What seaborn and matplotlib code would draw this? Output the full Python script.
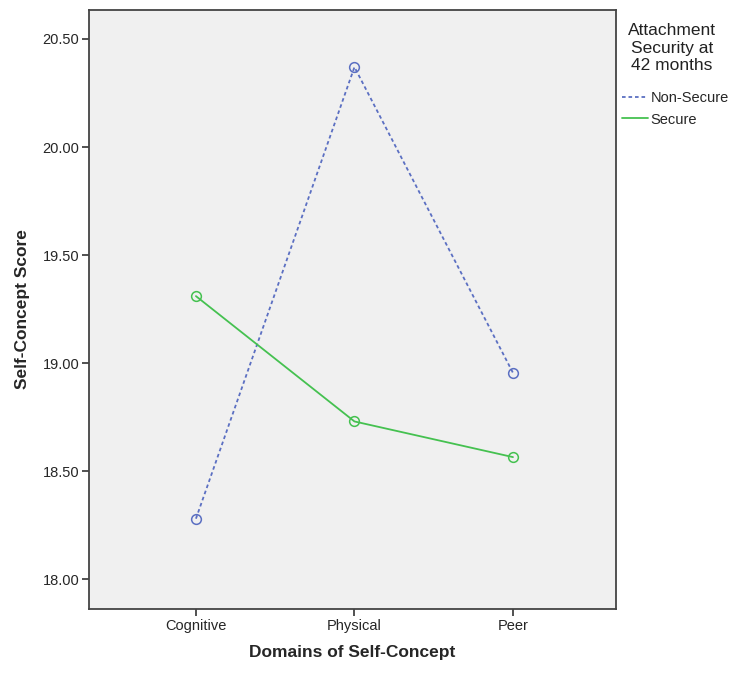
import pandas as pd
import numpy as np
import matplotlib
matplotlib.use("Agg")
import matplotlib.pyplot as plt
import seaborn as sns
from matplotlib.lines import Line2D

# values
domains = ["Cognitive", "Physical", "Peer"]
non_secure = [18.28, 20.37, 18.955]
secure = [19.31, 18.73, 18.565]
groups = ["Non-Secure", "Secure"]
y_ticks = [18.00, 18.50, 19.00, 19.50, 20.00, 20.50]

df = pd.DataFrame({
    "domain": domains * 2,
    "score": non_secure + secure,
    "group": [groups[0]] * 3 + [groups[1]] * 3,
})
df["x"] = df["domain"].map({d: i for i, d in enumerate(domains)})

sns.set_style("ticks")
plt.rcParams['font.family'] = ['Liberation Sans', 'DejaVu Sans']

fig = plt.figure(figsize=(7.29, 6.81), dpi=100)
ax = fig.add_axes([0.122, 0.1057, 0.723, 0.8796])
ax.set_facecolor("#f0f0f0")

palette = {"Non-Secure": "#5b6fc2", "Secure": "#45c150"}
dashes = {"Non-Secure": (2, 1.6), "Secure": ""}
sns.lineplot(data=df, x="x", y="score", hue="group", style="group",
             palette=palette, dashes=dashes, markers={"Non-Secure": "o", "Secure": "o"},
             markersize=7, markeredgewidth=1.1,
             linewidth=1.3, ax=ax, legend=False)
for line in ax.lines:
    line.set_markerfacecolor("none")
    line.set_markeredgecolor(line.get_color())

ax.set_xlim(-0.675, 2.65)
ax.set_ylim(17.862, 20.634)
ax.set_xticks(range(len(domains)))
ax.set_xticklabels(domains, fontsize=10.5)
ax.set_yticks(y_ticks)
ax.set_yticklabels([f"{v:.2f}" for v in y_ticks], fontsize=10.5)
ax.tick_params(length=5, width=1.2, color="#333333", pad=2)
for s in ax.spines.values():
    s.set_linewidth(1.3)
    s.set_color("#444444")

ax.set_xlabel("Domains of Self-Concept", fontsize=12.5, fontweight="bold", labelpad=9)
ax.set_ylabel("Self-Concept Score", fontsize=12.5, fontweight="bold", labelpad=9)

# legend outside on the right, title drawn separately
fig.text(0.922, 0.966, "Attachment\nSecurity at\n42 months", ha="center", va="top",
         fontsize=12.5, linespacing=1.2, color="#222222")
handles = [Line2D([], [], color=palette[g], linestyle=(0, (2, 1.6)) if g == "Non-Secure" else "-",
                  linewidth=1.3) for g in groups]
leg = fig.legend(handles, groups, loc="upper left", bbox_to_anchor=(0.853, 0.866),
                 frameon=False, fontsize=10.5, handlelength=1.8,
                 handletextpad=0.15, labelspacing=0.5, borderaxespad=0.0,
                 borderpad=0.0)

fig.savefig("out.png", dpi=100)
